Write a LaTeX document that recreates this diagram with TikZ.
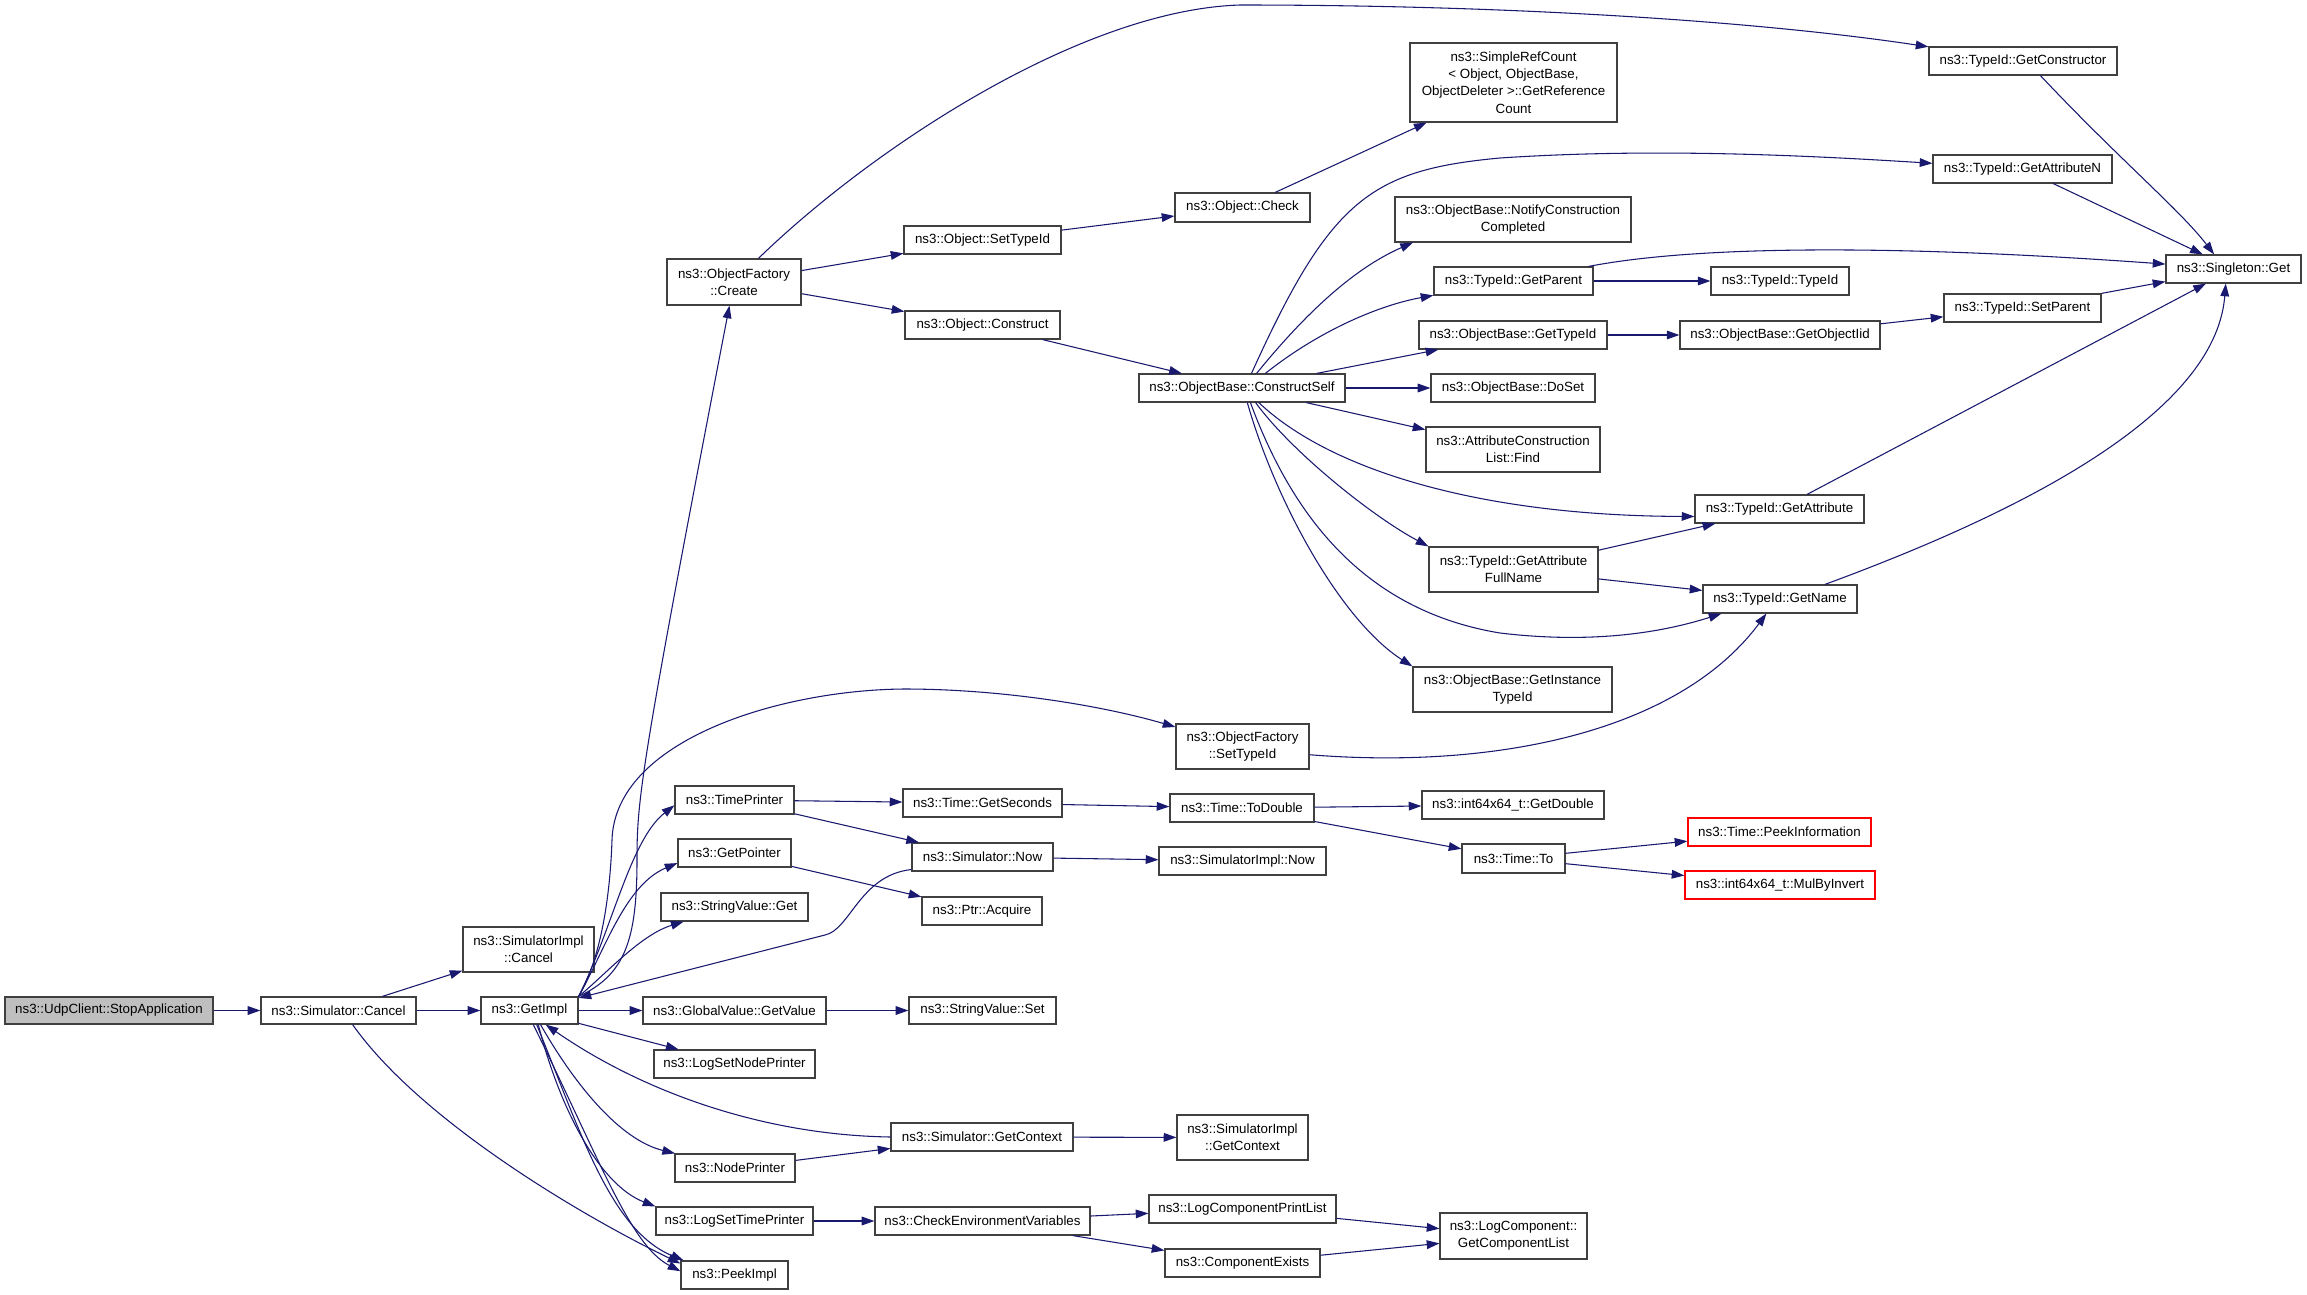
\documentclass[tikz,border=0pt]{standalone}
\usepackage{fontspec}
\setmainfont{Liberation Sans}
\usetikzlibrary{arrows.meta}
\definecolor{edgec}{HTML}{191970}
\definecolor{boxc}{HTML}{404040}
\definecolor{fillc}{HTML}{BFBFBF}
\definecolor{redc}{HTML}{FF0000}
\newcommand\nodefont{\fontsize{10}{13}\selectfont}
\newcommand\mkbox[7][]{%
  \node[box,#1,minimum width={(#5-#3)*0.75pt},minimum height={(#6-#4)*0.75pt}] (#2) at ({(#3+#5)/2},{(#4+#6)/2}) {#7};}
\tikzset{
  box/.style={draw=boxc, line width=0.9pt, fill=white, inner sep=0pt, align=center, font=\nodefont},
  graybox/.style={fill=fillc},
  redbox/.style={draw=redc},
  e/.style={draw=edgec, line width=0.8pt, -{Triangle[length=9.5pt,width=6.5pt]}}
}
\begin{document}
\begin{tikzpicture}[x=0.75pt,y=-0.75pt]
\fill[white] (0,0) rectangle (2307,1295);
\useasboundingbox (0,0) rectangle (2307,1295);

% nodes
\mkbox[graybox]{stop}{5}{997}{213}{1024}{ns3::UdpClient::StopApplication}
\mkbox{cancel}{261}{997}{416}{1024}{ns3::Simulator::Cancel}
\mkbox{getimpl}{481}{997}{578}{1024}{ns3::GetImpl}
\mkbox{simcancel}{463}{927}{594}{972}{ns3::SimulatorImpl\\::Cancel}
\mkbox{create}{667}{259}{801}{305}{ns3::ObjectFactory\\::Create}
\mkbox{timeprinter}{675}{786}{794}{814}{ns3::TimePrinter}
\mkbox{getpointer}{678}{839}{791}{867}{ns3::GetPointer}
\mkbox{svget}{661}{893}{808}{921}{ns3::StringValue::Get}
\mkbox{gvget}{643}{997}{826}{1024}{ns3::GlobalValue::GetValue}
\mkbox{lsnp}{654}{1050}{815}{1078}{ns3::LogSetNodePrinter}
\mkbox{nodeprinter}{675}{1154}{795}{1182}{ns3::NodePrinter}
\mkbox{lstp}{656}{1207}{813}{1235}{ns3::LogSetTimePrinter}
\mkbox{peekimpl}{681}{1261}{788}{1289}{ns3::PeekImpl}
\mkbox{simnow}{912}{843}{1053}{871}{ns3::Simulator::Now}
\mkbox{simimplnow}{1159}{847}{1326}{875}{ns3::SimulatorImpl::Now}
\mkbox{acquire}{922}{897}{1042}{925}{ns3::Ptr::Acquire}
\mkbox{svset}{909}{997}{1056}{1024}{ns3::StringValue::Set}
\mkbox{getcontext}{891}{1123}{1073}{1151}{ns3::Simulator::GetContext}
\mkbox{implgetcontext}{1177}{1115}{1308}{1160}{ns3::SimulatorImpl\\::GetContext}
\mkbox{checkenv}{875}{1207}{1090}{1235}{ns3::CheckEnvironmentVariables}
\mkbox{lcpl}{1149}{1195}{1336}{1223}{ns3::LogComponentPrintList}
\mkbox{compexists}{1165}{1249}{1320}{1277}{ns3::ComponentExists}
\mkbox{getcomplist}{1440}{1213}{1587}{1259}{ns3::LogComponent::\\GetComponentList}
\mkbox{getseconds}{903}{789}{1062}{817}{ns3::Time::GetSeconds}
\mkbox{todouble}{1170}{794}{1314}{822}{ns3::Time::ToDouble}
\mkbox{getdouble}{1422}{791}{1604}{819}{ns3::int64x64\_t::GetDouble}
\mkbox{timeto}{1462}{844}{1565}{873}{ns3::Time::To}
\mkbox[redbox]{peekinfo}{1688}{818}{1871}{846}{ns3::Time::PeekInformation}
\mkbox[redbox]{mulbyinvert}{1685}{871}{1875}{899}{ns3::int64x64\_t::MulByInvert}
\mkbox{oftypeid}{1176}{724}{1309}{769}{ns3::ObjectFactory\\::SetTypeId}
\mkbox{instancetypeid}{1413}{667}{1612}{712}{ns3::ObjectBase::GetInstance\\TypeId}
\mkbox{fullname}{1429}{547}{1598}{592}{ns3::TypeId::GetAttribute\\FullName}
\mkbox{find}{1426}{427}{1600}{472}{ns3::AttributeConstruction\\List::Find}
\mkbox{getattribute}{1695}{495}{1864}{523}{ns3::TypeId::GetAttribute}
\mkbox{getname}{1703}{585}{1857}{613}{ns3::TypeId::GetName}
\mkbox{settypeid}{904}{226}{1061}{254}{ns3::Object::SetTypeId}
\mkbox{check}{1175}{193}{1310}{222}{ns3::Object::Check}
\mkbox{construct}{905}{311}{1060}{339}{ns3::Object::Construct}
\mkbox{constructself}{1139}{374}{1345}{402}{ns3::ObjectBase::ConstructSelf}
\mkbox{simplerefcount}{1410}{43}{1617}{122}{ns3::SimpleRefCount\\< Object, ObjectBase,\\ObjectDeleter >::GetReference\\Count}
\mkbox{notify}{1395}{197}{1631}{242}{ns3::ObjectBase::NotifyConstruction\\Completed}
\mkbox{getparent}{1434}{267}{1593}{295}{ns3::TypeId::GetParent}
\mkbox{obgettypeid}{1419}{321}{1607}{349}{ns3::ObjectBase::GetTypeId}
\mkbox{doset}{1431}{374}{1595}{402}{ns3::ObjectBase::DoSet}
\mkbox{getconstructor}{1929}{47}{2117}{75}{ns3::TypeId::GetConstructor}
\mkbox{getattributen}{1933}{155}{2112}{183}{ns3::TypeId::GetAttributeN}
\mkbox{singleton}{2166}{255}{2301}{283}{ns3::Singleton::Get}
\mkbox{typeidtypeid}{1711}{267}{1849}{295}{ns3::TypeId::TypeId}
\mkbox{setparent}{1944}{294}{2101}{322}{ns3::TypeId::SetParent}
\mkbox{getobjectiid}{1680}{321}{1880}{349}{ns3::ObjectBase::GetObjectIid}

% edges
\draw[e] (stop) -- (cancel);
\draw[e] (cancel) -- (simcancel);
\draw[e] (cancel) -- (getimpl);
\draw[e] (cancel.-45) .. controls (420,1120) and (580,1215) .. (peekimpl.168);
\draw[e] (getimpl.north east) .. controls (625,975) and (637,940) .. (637,860) .. controls (637,800) and (640,770) .. (create);
\draw[e] (getimpl.north east) .. controls (600,960) and (610,900) .. (612,840) .. controls (615,740) and (780,690) .. (904,689) .. controls (1000,689) and (1100,705) .. (oftypeid);
\draw[e] (getimpl.north east) .. controls (612,930) and (630,840) .. (timeprinter.185);
\draw[e] (getimpl.north east) .. controls (605,950) and (625,885) .. (getpointer.190);
\draw[e] (getimpl.north east) .. controls (605,975) and (640,935) .. (svget.196);
\draw[e] (getimpl) -- (gvget);
\draw[e] (getimpl) -- (lsnp);
\draw[e] (getimpl.-52) .. controls (575,1085) and (620,1140) .. (nodeprinter);
\draw[e] (getimpl.-58) .. controls (560,1110) and (600,1185) .. (lstp.north west);
\draw[e] (getimpl.-75) .. controls (600,1160) and (630,1245) .. (peekimpl.176);
\draw[e] (getimpl.-63) .. controls (580,1130) and (610,1230) .. (peekimpl.164);
\draw[e] (simnow.190) .. controls (860,875) and (850,930) .. (825,935) -- (getimpl);
\draw[e] (getcontext.west) .. controls (760,1135) and (640,1090) .. (getimpl.-41);
\draw[e] (timeprinter) -- (getseconds);
\draw[e] (timeprinter) -- (simnow);
\draw[e] (getpointer) -- (acquire);
\draw[e] (gvget) -- (svset);
\draw[e] (nodeprinter) -- (getcontext);
\draw[e] (getcontext) -- (implgetcontext);
\draw[e] (lstp) -- (checkenv);
\draw[e] (checkenv) -- (lcpl);
\draw[e] (checkenv) -- (compexists);
\draw[e] (lcpl) -- (getcomplist);
\draw[e] (compexists) -- (getcomplist);
\draw[e] (simnow) -- (simimplnow);
\draw[e] (getseconds) -- (todouble);
\draw[e] (todouble) -- (getdouble);
\draw[e] (todouble) -- (timeto);
\draw[e] (timeto) -- (peekinfo);
\draw[e] (timeto) -- (mulbyinvert);
\draw[e] (oftypeid.-7) .. controls (1500,770) and (1680,730) .. (getname.227);
\draw[e] (create.44) .. controls (870,150) and (1080,10) .. (1240,5) .. controls (1500,5) and (1750,20) .. (getconstructor);
\draw[e] (create) -- (settypeid);
\draw[e] (create) -- (construct);
\draw[e] (settypeid) -- (check);
\draw[e] (check) -- (simplerefcount);
\draw[e] (construct) -- (constructself);
\draw[e] (constructself.57) .. controls (1330,200) and (1370,170) .. (1500,158) .. controls (1650,148) and (1800,155) .. (getattributen);
\draw[e] (constructself.45) .. controls (1300,320) and (1350,270) .. (notify.193);
\draw[e] (constructself.32) .. controls (1320,330) and (1380,305) .. (getparent);
\draw[e] (constructself) -- (obgettypeid);
\draw[e] (constructself) -- (doset);
\draw[e] (constructself) -- (find);
\draw[e] (constructself.-41) .. controls (1330,470) and (1480,516) .. (getattribute.185);
\draw[e] (constructself.-47) .. controls (1290,450) and (1370,515) .. (fullname.north west);
\draw[e] (constructself.-60) .. controls (1290,510) and (1360,610) .. (1500,633) .. controls (1600,645) and (1670,630) .. (getname.194);
\draw[e] (constructself.-70) .. controls (1275,500) and (1340,620) .. (instancetypeid.north west);
\draw[e] (getconstructor.-40) .. controls (2120,160) and (2180,210) .. (singleton.143);
\draw[e] (getattributen) -- (singleton);
\draw[e] (getparent.11) .. controls (1700,245) and (1900,245) .. (singleton);
\draw[e] (getparent) -- (typeidtypeid);
\draw[e] (obgettypeid) -- (getobjectiid);
\draw[e] (getobjectiid) -- (setparent);
\draw[e] (setparent) -- (singleton);
\draw[e] (getattribute) -- (singleton);
\draw[e] (getname.18) .. controls (2000,520) and (2215,420) .. (singleton.-118);
\draw[e] (fullname) -- (getattribute);
\draw[e] (fullname) -- (getname);
\end{tikzpicture}
\end{document}
